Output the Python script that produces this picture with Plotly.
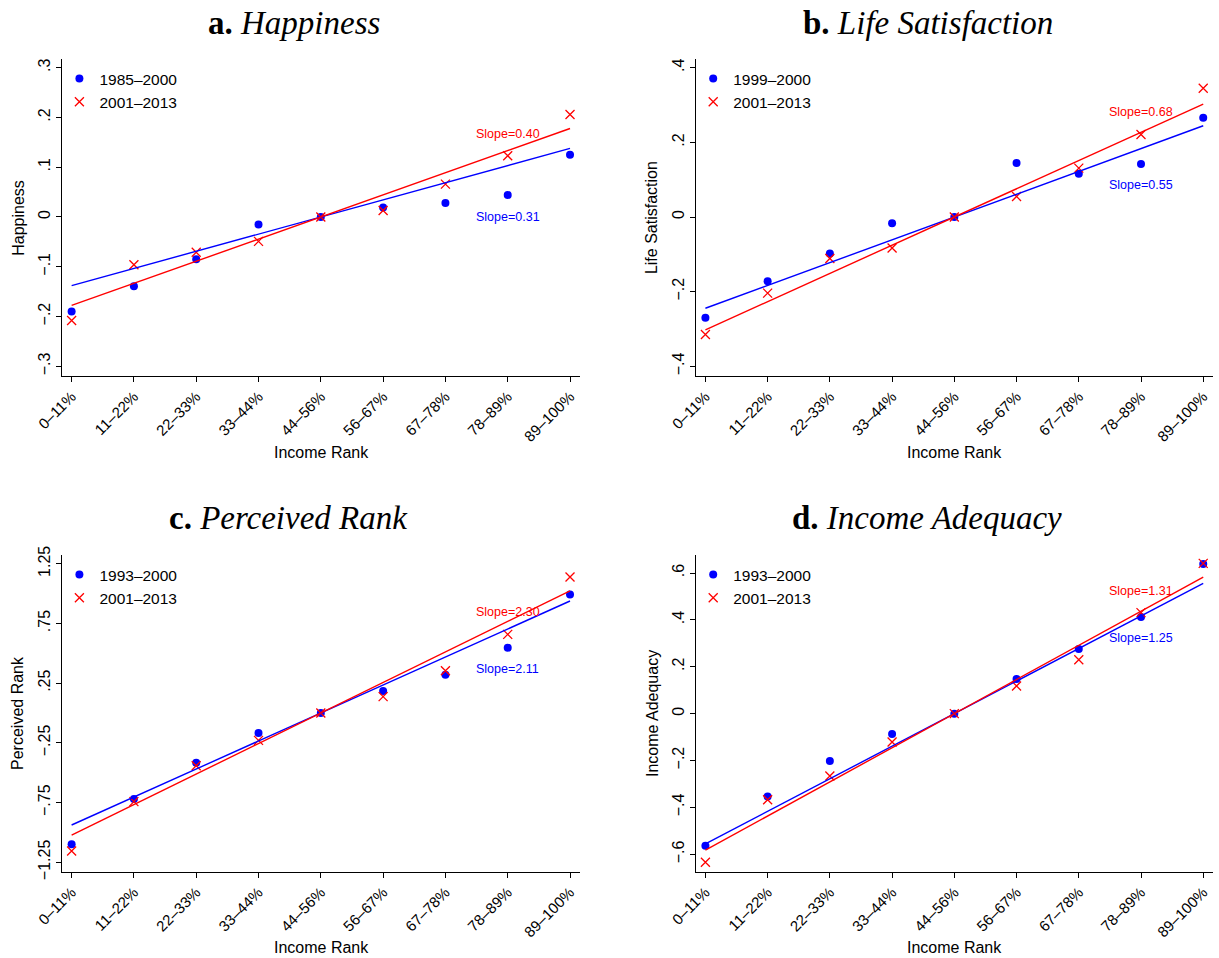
import plotly.graph_objects as go

# ---------------- data ----------------
categories = ["0–11%", "11–22%", "22–33%", "33–44%", "44–56%",
              "56–67%", "67–78%", "78–89%", "89–100%"]
x_pos = list(range(len(categories)))

happy_early = [-0.190, -0.139, -0.085, -0.015, 0.000, 0.019, 0.028, 0.044, 0.125]
happy_late = [-0.208, -0.096, -0.071, -0.049, 0.000, 0.013, 0.066, 0.123, 0.206]
happy_slopes = [0.31, 0.40]
happy_periods = ["1985–2000", "2001–2013"]

life_early = [-0.270, -0.172, -0.098, -0.017, 0.000, 0.145, 0.116, 0.142, 0.266]
life_late = [-0.315, -0.204, -0.111, -0.083, 0.000, 0.055, 0.131, 0.221, 0.345]
life_slopes = [0.55, 0.68]
life_periods = ["1999–2000", "2001–2013"]

rank_early = [-1.099, -0.720, -0.416, -0.167, 0.000, 0.184, 0.321, 0.547, 0.993]
rank_late = [-1.155, -0.742, -0.441, -0.229, 0.000, 0.137, 0.354, 0.658, 1.138]
rank_slopes = [2.11, 2.30]
rank_periods = ["1993–2000", "2001–2013"]

adeq_early = [-0.564, -0.353, -0.202, -0.087, 0.000, 0.148, 0.276, 0.412, 0.638]
adeq_late = [-0.634, -0.367, -0.266, -0.121, 0.000, 0.118, 0.230, 0.431, 0.641]
adeq_slopes = [1.25, 1.31]
adeq_periods = ["1993–2000", "2001–2013"]

happy_ticks = [-0.3, -0.2, -0.1, 0, 0.1, 0.2, 0.3]
happy_ticktext = ["−.3", "−.2", "−.1", "0", ".1", ".2", ".3"]
life_ticks = [-0.4, -0.2, 0, 0.2, 0.4]
life_ticktext = ["−.4", "−.2", "0", ".2", ".4"]
rank_ticks = [-1.25, -0.75, -0.25, 0.25, 0.75, 1.25]
rank_ticktext = ["−1.25", "−.75", "−.25", ".25", ".75", "1.25"]
adeq_ticks = [-0.6, -0.4, -0.2, 0, 0.2, 0.4, 0.6]
adeq_ticktext = ["−.6", "−.4", "−.2", "0", ".2", ".4", ".6"]

titles = ["<b>a.</b> <i>Happiness</i>", "<b>b.</b> <i>Life Satisfaction</i>",
          "<b>c.</b> <i>Perceived Rank</i>", "<b>d.</b> <i>Income Adequacy</i>"]
ytitles = ["Happiness", "Life Satisfaction", "Perceived Rank", "Income Adequacy"]

# slope label positions (y value at category 7) [early(blue), late(red)]
happy_label_y = [0.0, 0.167]
life_label_y = [0.086, 0.282]
rank_label_y = [0.368, 0.848]
adeq_label_y = [0.323, 0.523]

panels = [
    dict(early=happy_early, late=happy_late, slopes=happy_slopes, periods=happy_periods,
         ticks=happy_ticks, ticktext=happy_ticktext, label_y=happy_label_y),
    dict(early=life_early, late=life_late, slopes=life_slopes, periods=life_periods,
         ticks=life_ticks, ticktext=life_ticktext, label_y=life_label_y),
    dict(early=rank_early, late=rank_late, slopes=rank_slopes, periods=rank_periods,
         ticks=rank_ticks, ticktext=rank_ticktext, label_y=rank_label_y),
    dict(early=adeq_early, late=adeq_late, slopes=adeq_slopes, periods=adeq_periods,
         ticks=adeq_ticks, ticktext=adeq_ticktext, label_y=adeq_label_y),
]

# ---------------- layout geometry (pixels) ----------------
W, H = 1219, 958
BLUE = "#0000FF"
RED = "#FF0000"
SANS = "Liberation Sans, Arial, sans-serif"
SERIF = "Liberation Serif, Times New Roman, serif"

plot_boxes = [  # left, right, top, bottom in px
    (62.4, 579.8, 59, 376),
    (696.2, 1213.0, 59, 376),
    (62.4, 579.8, 555, 871.7),
    (696.2, 1213.0, 555, 871.7),
]
y_ranges = [(-0.3195, 0.3174), (-0.426, 0.4233), (-1.3287, 1.3228), (-0.6743, 0.6768)]
x_range = (-0.148, 8.157)
title_pos = [(294, 23), (928, 23), (288, 518), (927, 518)]
ytitle_x = [18.3, 651.6, 17.6, 652.7]
xtitle_y = [452, 452, 947, 947]


def px(xp):
    return xp / W


def py(yp):
    return 1 - yp / H


fig = go.Figure()
annotations = []
legend_names = ["legend", "legend2", "legend3", "legend4"]

for i, p in enumerate(panels):
    sfx = "" if i == 0 else str(i + 1)
    xa, ya = "x" + sfx, "y" + sfx
    leg = legend_names[i]
    fig.add_trace(go.Scatter(
        x=x_pos, y=p["early"], mode="markers", name=p["periods"][0],
        marker=dict(symbol="circle", size=8, color=BLUE),
        xaxis=xa, yaxis=ya, legend=leg))
    fig.add_trace(go.Scatter(
        x=x_pos, y=p["late"], mode="markers", name=p["periods"][1],
        marker=dict(symbol="x-thin", size=9, color=RED,
                    line=dict(color=RED, width=1.3)),
        xaxis=xa, yaxis=ya, legend=leg))
    # fitted lines from slopes (income rank on 0-1 scale, centred at the median group)
    for slope, col in zip(p["slopes"], [BLUE, RED]):
        xs = [x_pos[0], x_pos[-1]]
        ys = [slope * ((xx + 0.5) / len(x_pos) - 0.5) for xx in xs]
        fig.add_trace(go.Scatter(
            x=xs, y=ys, mode="lines", line=dict(color=col, width=1.4),
            showlegend=False, xaxis=xa, yaxis=ya, hoverinfo="skip"))
    for slope, col, ly in zip(p["slopes"], [BLUE, RED], p["label_y"]):
        annotations.append(dict(
            x=7, y=ly, xref=xa, yref=ya, text=f"Slope={slope:.2f}",
            showarrow=False, font=dict(family=SANS, size=12.5, color=col),
            xanchor="center", yanchor="middle"))

    l, r, t, b = plot_boxes[i]
    axis_common = dict(showline=True, linecolor="black", linewidth=1,
                       ticks="outside", ticklen=5, tickwidth=1, tickcolor="black",
                       showgrid=False, zeroline=False, automargin=False)
    fig.update_layout(**{
        "xaxis" + sfx: dict(domain=[px(l), px(r)], range=list(x_range),
                            tickvals=x_pos, ticktext=categories, tickangle=-45,
                            tickfont=dict(family=SANS, size=15, color="black"),
                            anchor=ya, **axis_common),
        "yaxis" + sfx: dict(domain=[py(b), py(t)], range=list(y_ranges[i]),
                            tickvals=p["ticks"], ticktext=p["ticktext"], tickangle=-90,
                            tickfont=dict(family=SANS, size=16, color="black"),
                            anchor=xa, **axis_common),
        leg: dict(x=px(l - 3), y=py(t + 3), xanchor="left", yanchor="top",
                  bgcolor="rgba(0,0,0,0)", borderwidth=0,
                  font=dict(family=SANS, size=15.5, color="black"),
                  tracegroupgap=0),
    })

    tx, ty = title_pos[i]
    annotations.append(dict(x=px(tx), y=py(ty), xref="paper", yref="paper",
                            text=titles[i], showarrow=False,
                            font=dict(family=SERIF, size=33, color="black"),
                            xanchor="center", yanchor="middle"))
    annotations.append(dict(x=px(ytitle_x[i]), y=py((t + b) / 2), xref="paper", yref="paper",
                            text=ytitles[i], showarrow=False, textangle=-90,
                            font=dict(family=SANS, size=16, color="black"),
                            xanchor="center", yanchor="middle"))
    annotations.append(dict(x=px((l + r) / 2), y=py(xtitle_y[i]), xref="paper", yref="paper",
                            text="Income Rank", showarrow=False,
                            font=dict(family=SANS, size=16, color="black"),
                            xanchor="center", yanchor="middle"))

fig.update_layout(
    template="none",
    width=W, height=H, margin=dict(l=0, r=0, t=0, b=0, autoexpand=False),
    paper_bgcolor="white", plot_bgcolor="white",
    annotations=annotations, showlegend=True,
)

fig.write_html(
    "out.html",
    config={"displayModeBar": False},
    post_script="document.body.style.margin='0';document.body.style.overflow='hidden';",
)
